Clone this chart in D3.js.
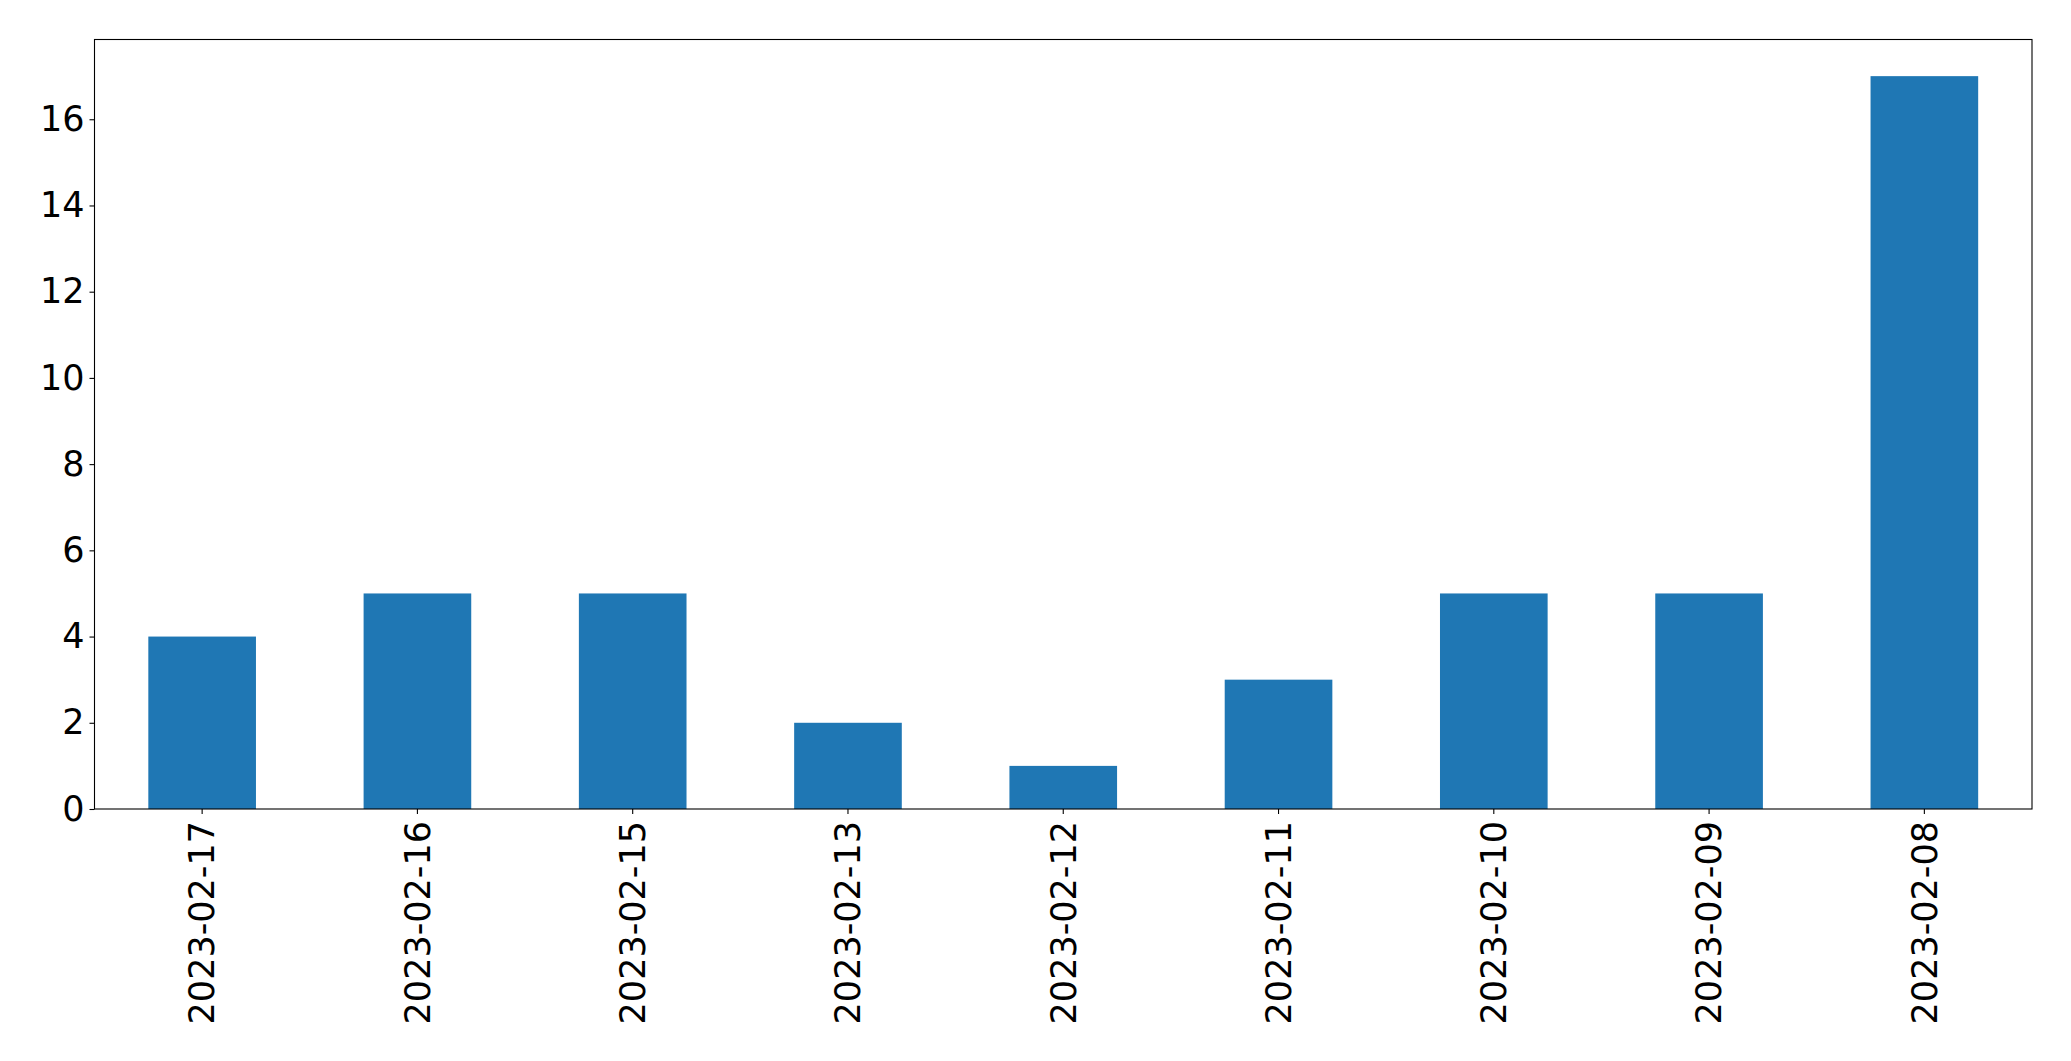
<!DOCTYPE html>
<html><head><meta charset="utf-8">
<script src="https://cdn.jsdelivr.net/npm/d3@7"></script>
<style>html,body{margin:0;padding:0;background:#fff;}svg{display:block;}</style>
</head><body>
<script>
const categories = ["2023-02-17","2023-02-16","2023-02-15","2023-02-13","2023-02-12","2023-02-11","2023-02-10","2023-02-09","2023-02-08"];
const values = [4,5,5,2,1,3,5,5,17];
const yTicks = [0,2,4,6,8,10,12,14,16];

const W = 2071, H = 1061;
const m = {left:94.5, right:2071-2032, top:39.5, bottom:1061-809};
const svg = d3.select("body").append("svg").attr("width",W).attr("height",H);
const iw = W-m.left-m.right, ih = H-m.top-m.bottom;
const g = svg.append("g").attr("transform",`translate(${m.left},${m.top})`);

const x = d3.scaleBand().domain(categories).range([0,iw]).paddingInner(0.5).paddingOuter(0.25);
const ymax = d3.max(values)*1.05;
const y = d3.scaleLinear().domain([0,ymax]).range([ih,0]);

g.selectAll("rect.bar").data(values).join("rect").attr("class","bar")
  .attr("x",(d,i)=>x(categories[i])).attr("width",x.bandwidth())
  .attr("y",d=>y(d)).attr("height",d=>ih-y(d)).attr("fill","#1f77b4");

const font = "DejaVu Sans";
const fs = 35;
const yAxis = g.append("g").call(d3.axisLeft(y).tickValues(yTicks).tickSize(5).tickPadding(5).tickFormat(d3.format("d")));
yAxis.select(".domain").remove();
yAxis.selectAll("line").attr("stroke","#000").attr("stroke-width",1.1);
yAxis.selectAll("text").attr("font-family",font).attr("font-size",fs).attr("fill","#000");

const xAxis = g.append("g").attr("transform",`translate(0,${ih})`).call(d3.axisBottom(x).tickSize(5).tickPadding(0));
xAxis.select(".domain").remove();
xAxis.selectAll("line").attr("stroke","#000").attr("stroke-width",1.1);
xAxis.selectAll("text").attr("font-family",font).attr("font-size",fs).attr("fill","#000")
  .attr("transform","rotate(-90)").attr("text-anchor","end").attr("dy","0.35em").attr("x",-12).attr("y",0);

g.append("rect").attr("x",0).attr("y",0).attr("width",iw).attr("height",ih)
  .attr("fill","none").attr("stroke","#000").attr("stroke-width",1.1);
</script>
</body></html>
